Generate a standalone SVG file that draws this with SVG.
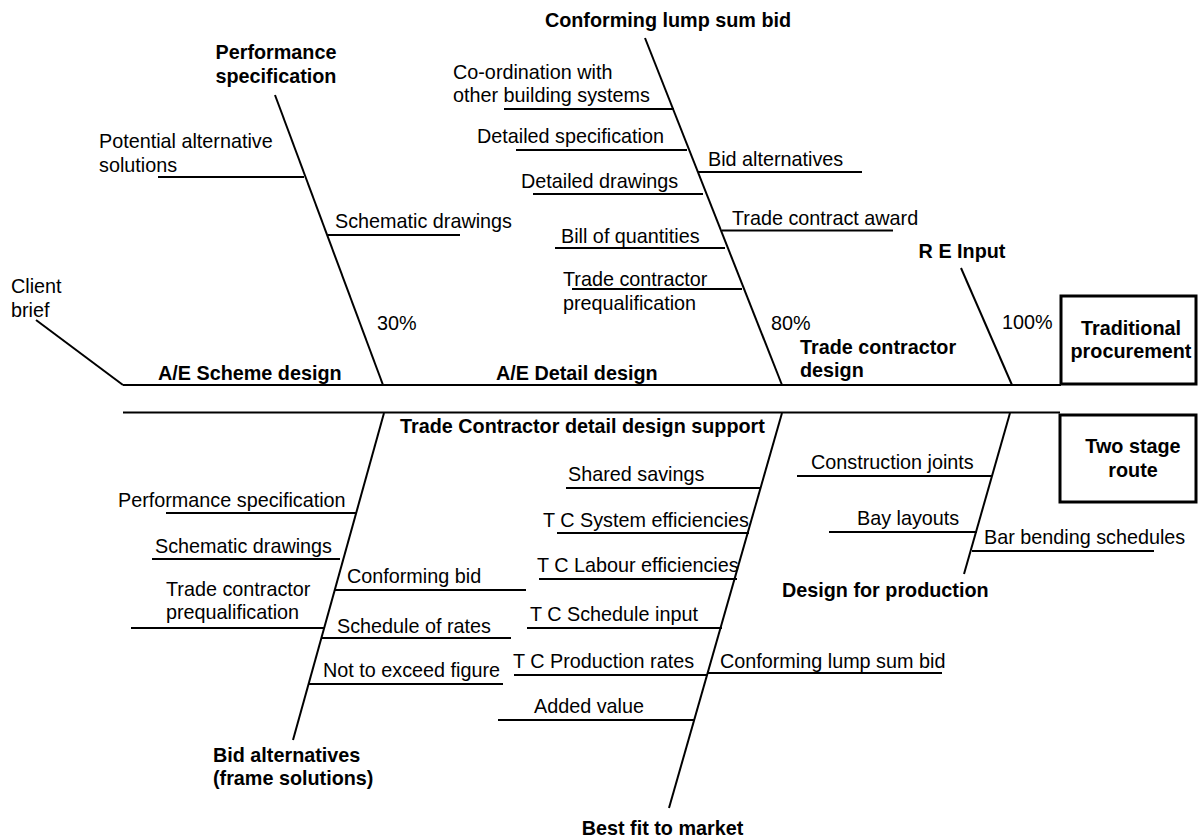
<svg xmlns="http://www.w3.org/2000/svg" width="1198" height="839" viewBox="0 0 1198 839">
<style>
text{font-family:"Liberation Sans",Arial,sans-serif;font-size:19.8px;fill:#000}
.b{font-weight:bold}
.m{text-anchor:middle}
line{stroke:#000;stroke-width:2;fill:none}
.box{fill:#fff;stroke:#000;stroke-width:3}
</style>
<rect width="1198" height="839" fill="#fff"/>
<g id="connectors">
<line x1="36" y1="320" x2="123" y2="385"/>
<line x1="123" y1="385" x2="1061" y2="385"/>
<line x1="275" y1="95" x2="383" y2="385"/>
<line x1="645" y1="38" x2="782" y2="385"/>
<line x1="961" y1="268" x2="1012" y2="385"/>
<line x1="123" y1="412.5" x2="1060" y2="412.5"/>
<line x1="384" y1="413" x2="293" y2="740"/>
<line x1="782" y1="413" x2="669" y2="808"/>
<line x1="1010" y1="413" x2="964" y2="574"/>
<line x1="158" y1="177" x2="304" y2="177"/>
<line x1="328" y1="235" x2="460" y2="235"/>
<line x1="504" y1="109" x2="674" y2="109"/>
<line x1="516" y1="150" x2="687" y2="150"/>
<line x1="698" y1="172" x2="862" y2="172"/>
<line x1="533" y1="194" x2="703" y2="194"/>
<line x1="722" y1="230.5" x2="893" y2="230.5"/>
<line x1="555" y1="248" x2="725" y2="248"/>
<line x1="572" y1="289" x2="742" y2="289"/>
<line x1="166" y1="513" x2="356" y2="513"/>
<line x1="152" y1="559" x2="340" y2="559"/>
<line x1="131" y1="628" x2="324" y2="628"/>
<line x1="335" y1="590" x2="526" y2="590"/>
<line x1="322" y1="638" x2="511" y2="638"/>
<line x1="309" y1="684" x2="503" y2="684"/>
<line x1="566" y1="488" x2="760" y2="488"/>
<line x1="557" y1="533" x2="749" y2="533"/>
<line x1="539" y1="579" x2="737" y2="579"/>
<line x1="527" y1="628" x2="722" y2="628"/>
<line x1="514" y1="675" x2="707" y2="675"/>
<line x1="707" y1="673" x2="942" y2="673"/>
<line x1="498" y1="720" x2="695" y2="720"/>
<line x1="797" y1="476" x2="992" y2="476"/>
<line x1="829" y1="532" x2="977" y2="532"/>
<line x1="972" y1="551" x2="1154" y2="551"/>
</g>
<g id="client-brief"><text x="11" y="293">Client</text><text x="11" y="317">brief</text></g>
<g id="performance-specification"><text class="b m" x="276" y="59">Performance</text><text class="b m" x="276" y="83">specification</text></g>
<g id="potential-alternative"><text x="99" y="148">Potential alternative</text><text x="99" y="172">solutions</text></g>
<g id="schematic-drawings-top"><text x="335" y="228">Schematic drawings</text></g>
<g id="pct30"><text x="377" y="330">30%</text></g>
<g id="conforming-lump-sum-top"><text class="b m" x="668" y="27">Conforming lump sum bid</text></g>
<g id="coordination"><text x="453" y="79">Co-ordination with</text><text x="453" y="102">other building systems</text></g>
<g id="detailed-specification"><text x="477" y="143">Detailed specification</text></g>
<g id="bid-alternatives-top"><text x="708" y="166">Bid alternatives</text></g>
<g id="detailed-drawings"><text x="521" y="188">Detailed drawings</text></g>
<g id="trade-contract-award"><text x="732" y="225">Trade contract award</text></g>
<g id="bill-of-quantities"><text x="561" y="243">Bill of quantities</text></g>
<g id="tc-prequal-top"><text x="563" y="286">Trade contractor</text><text x="563" y="310">prequalification</text></g>
<g id="pct80"><text x="771" y="330">80%</text></g>
<g id="re-input"><text class="b m" x="962" y="258">R E Input</text></g>
<g id="pct100"><text x="1002" y="329">100%</text></g>
<g id="ae-scheme"><text class="b" x="158" y="380">A/E Scheme design</text></g>
<g id="ae-detail"><text class="b" x="496" y="380">A/E Detail design</text></g>
<g id="tc-design"><text class="b" x="800" y="354">Trade contractor</text><text class="b" x="800" y="377">design</text></g>
<g id="traditional"><rect class="box" x="1061" y="296" width="135" height="88"/><text class="b m" x="1131" y="335">Traditional</text><text class="b m" x="1131" y="358">procurement</text></g>
<g id="two-stage"><rect class="box" x="1060" y="415" width="136" height="87"/><text class="b m" x="1133" y="453">Two stage</text><text class="b m" x="1133" y="477">route</text></g>
<g id="tc-detail-support"><text class="b" x="400" y="433">Trade Contractor detail design support</text></g>
<g id="performance-spec-bottom"><text x="118" y="507">Performance specification</text></g>
<g id="schematic-drawings-bottom"><text x="155" y="553">Schematic drawings</text></g>
<g id="tc-prequal-bottom"><text x="166" y="596">Trade contractor</text><text x="166" y="619">prequalification</text></g>
<g id="conforming-bid"><text x="347" y="583">Conforming bid</text></g>
<g id="schedule-of-rates"><text x="337" y="633">Schedule of rates</text></g>
<g id="not-to-exceed"><text x="323" y="677">Not to exceed figure</text></g>
<g id="bid-alternatives-frame"><text class="b" x="213" y="762">Bid alternatives</text><text class="b" x="213" y="785">(frame solutions)</text></g>
<g id="shared-savings"><text x="568" y="481">Shared savings</text></g>
<g id="tc-system"><text x="543" y="527">T C System efficiencies</text></g>
<g id="tc-labour"><text x="537" y="572">T C Labour efficiencies</text></g>
<g id="tc-schedule"><text x="530" y="621">T C Schedule input</text></g>
<g id="tc-production"><text x="513" y="668">T C Production rates</text></g>
<g id="conforming-lump-sum-bottom"><text x="720" y="668">Conforming lump sum bid</text></g>
<g id="added-value"><text x="534" y="713">Added value</text></g>
<g id="best-fit"><text class="b m" x="662.5" y="835">Best fit to market</text></g>
<g id="construction-joints"><text x="811" y="469">Construction joints</text></g>
<g id="bay-layouts"><text x="857" y="525">Bay layouts</text></g>
<g id="bar-bending"><text x="984" y="544">Bar bending schedules</text></g>
<g id="design-for-production"><text class="b" x="782" y="597">Design for production</text></g>
</svg>
